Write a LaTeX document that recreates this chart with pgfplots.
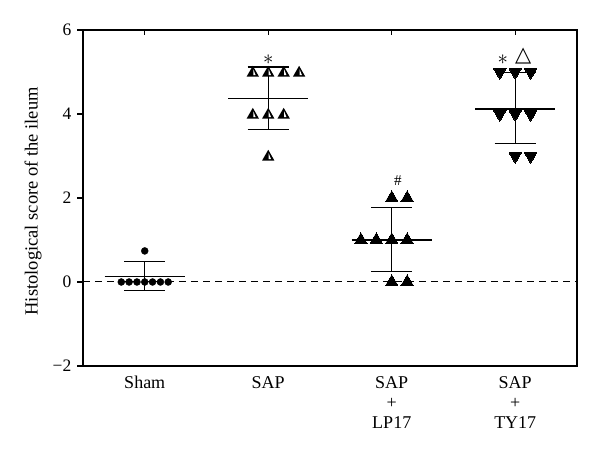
\documentclass[border=0pt]{standalone}
\usepackage{fontspec}
\setmainfont{Liberation Serif}
\newfontfamily\symfont{DejaVu Sans}
\usepackage{pgfplots}
\usepackage{pgfplotstable}
\pgfplotsset{compat=1.18}

\pgfdeclareplotmark{halftri}{%
  \pgfsetfillcolor{black}%
  \pgfpathmoveto{\pgfqpoint{0pt}{1.0\pgfplotmarksize}}%
  \pgfpathlineto{\pgfqpoint{-1.0\pgfplotmarksize}{-0.75\pgfplotmarksize}}%
  \pgfpathlineto{\pgfqpoint{1.0\pgfplotmarksize}{-0.75\pgfplotmarksize}}%
  \pgfpathclose
  \pgfusepathqfill
  \pgfsetfillcolor{white}%
  \pgfpathmoveto{\pgfqpoint{0.08\pgfplotmarksize}{0.42\pgfplotmarksize}}%
  \pgfpathlineto{\pgfqpoint{0.08\pgfplotmarksize}{-0.5\pgfplotmarksize}}%
  \pgfpathlineto{\pgfqpoint{0.45\pgfplotmarksize}{-0.5\pgfplotmarksize}}%
  \pgfpathclose
  \pgfusepathqfill
  \pgfsetfillcolor{black}%
}

% individual scores (x = group position with horizontal spread)
\pgfplotstableread{
x y
-0.19 0
-0.127 0
-0.063 0
0 0
0.063 0
0.127 0
0.19 0
0 0.74
}\sham
\pgfplotstableread{
x y
0.875 5
1 5
1.125 5
1.25 5
0.875 4
1 4
1.125 4
1 3
}\sap
\pgfplotstableread{
x y
2 2
2.125 2
1.75 1
1.875 1
2 1
2.125 1
2 0
2.125 0
}\lp
\pgfplotstableread{
x y
2.875 5
3 5
3.125 5
2.875 4
3 4
3.125 4
3 3
3.125 3
}\ty

\begin{document}
\fontsize{15}{20.5}\selectfont
\begin{tikzpicture}
\begin{axis}[
  at={(0,0)}, anchor=south west,
  scale only axis, width=494pt, height=336pt,
  xmin=-0.5, xmax=3.5, ymin=-2, ymax=6,
  xtick={0,1,2,3},
  xticklabels={Sham, SAP, {SAP\\+\\LP17}, {SAP\\+\\TY17}},
  xtick pos=upper, xticklabel pos=lower,
  ytick={-2,0,2,4,6}, ytick pos=left,
  yticklabels={−2,0,2,4,6},
  major tick length=5.5pt,
  xtick align=inside, ytick align=outside,
  tick style={black, line width=1.1pt},
  axis line style={black, line width=1.1pt},
  xticklabel style={align=center, font=\fontsize{18}{20}\selectfont, inner sep=2pt, yshift=-8pt},
  yticklabel style={font=\fontsize{17.5}{20}\selectfont, xshift=-1pt},
  /pgf/number format/assume math mode=true,
  ylabel={Histological score of the ileum},
  ylabel style={font=\fontsize{18.5}{20}\selectfont, at={(axis description cs:-0.1012,0.49)}, anchor=center},
  clip=false,
]
% zero reference line
\addplot[black, line width=1pt, dash pattern=on 7pt off 5pt] coordinates {(-0.5,0) (3.5,0)};

% Sham mean and SD
\addplot[black, line width=1.1pt] coordinates {(-0.324,0.13) (0.324,0.13)};
\addplot[black, line width=1.1pt] coordinates {(0,-0.21) (0,0.48)};
\addplot[black, line width=1.1pt] coordinates {(-0.166,0.48) (0.166,0.48)};
\addplot[black, line width=1.1pt] coordinates {(-0.166,-0.21) (0.166,-0.21)};
% SAP
\addplot[black, line width=1.1pt] coordinates {(0.676,4.375) (1.324,4.375)};
\addplot[black, line width=1.1pt] coordinates {(1,3.63) (1,5.12)};
\addplot[black, line width=1.1pt] coordinates {(0.834,5.12) (1.166,5.12)};
\addplot[black, line width=1.1pt] coordinates {(0.834,3.63) (1.166,3.63)};
% SAP + LP17
\addplot[black, line width=1.1pt] coordinates {(1.676,1.0) (2.324,1.0)};
\addplot[black, line width=1.1pt] coordinates {(2,0.25) (2,1.77)};
\addplot[black, line width=1.1pt] coordinates {(1.834,1.77) (2.166,1.77)};
\addplot[black, line width=1.1pt] coordinates {(1.834,0.25) (2.166,0.25)};
% SAP + TY17
\addplot[black, line width=1.1pt] coordinates {(2.676,4.12) (3.324,4.12)};
\addplot[black, line width=1.1pt] coordinates {(3,3.29) (3,4.98)};
\addplot[black, line width=1.1pt] coordinates {(2.834,4.98) (3.166,4.98)};
\addplot[black, line width=1.1pt] coordinates {(2.834,3.29) (3.166,3.29)};

% points
\addplot[only marks, mark=*, mark size=3.5pt, black] table {\sham};
\addplot[only marks, mark=halftri, mark size=6.2pt, black, fill=black] table {\sap};
\addplot[only marks, mark=triangle*, mark size=7.2pt, black, mark options={fill=black, line width=0pt}] table {\lp};
\addplot[only marks, mark=triangle*, mark size=7.2pt, black, mark options={fill=black, rotate=180, line width=0pt}] table {\ty};

% significance marks
\node[font=\fontsize{20}{20}\selectfont] at (axis cs:1,5.3) {$\ast$};
\node[font=\fontsize{15}{15}\selectfont] at (axis cs:2.05,2.42) {\#};
\node[font=\fontsize{20}{20}\selectfont] at (axis cs:2.9,5.3) {$\ast$};
\node[font=\symfont\fontsize{21}{21}\selectfont] at (axis cs:3.065,5.37) {△};
\end{axis}
\path[use as bounding box] (-83pt,-86pt) rectangle (517pt,366pt);
\end{tikzpicture}
\end{document}
